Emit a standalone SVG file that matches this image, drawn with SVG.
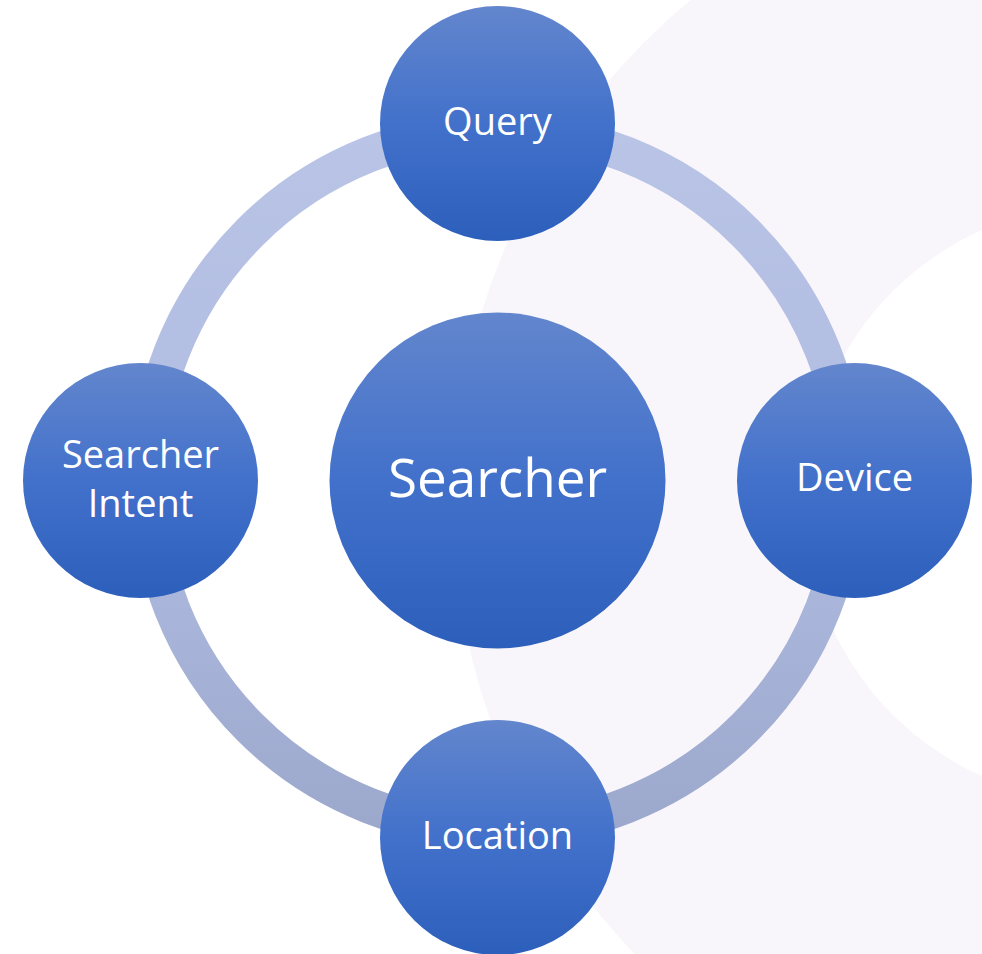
<svg xmlns="http://www.w3.org/2000/svg" width="982" height="954" viewBox="0 0 982 954">
  <defs>
    <linearGradient id="nodeFill" x1="0" y1="0" x2="0" y2="1">
      <stop offset="0" stop-color="#6386cd"/>
      <stop offset="0.5" stop-color="#4271cb"/>
      <stop offset="1" stop-color="#2c5fbb"/>
    </linearGradient>
    <linearGradient id="ringStroke" gradientUnits="userSpaceOnUse" x1="0" y1="120" x2="0" y2="840">
      <stop offset="0" stop-color="#b9c4e6"/>
      <stop offset="0.5" stop-color="#b0bce1"/>
      <stop offset="1" stop-color="#9ba8cc"/>
    </linearGradient>
    <style>
      .node { fill: url(#nodeFill); }
      .label { fill: #ffffff; font-family: "Open Sans", "Liberation Sans", sans-serif; text-anchor: middle; }
      .small { font-size: 38px; }
      .big { font-size: 53px; }
    </style>
  </defs>

  <!-- backdrop -->
  <rect x="0" y="0" width="982" height="954" fill="#ffffff"/>
  <circle cx="1104" cy="503" r="651" fill="#f8f6fb"/>
  <circle cx="1104" cy="503" r="299" fill="#ffffff"/>

  <!-- connecting ring -->
  <g id="connectors">
    <circle cx="497.5" cy="480" r="350" fill="none" stroke="url(#ringStroke)" stroke-width="36"/>
  </g>

  <g id="node-searcher">
    <circle class="node" cx="497.5" cy="480.5" r="168"/>
    <text class="label big" x="497.5" y="497">Searcher</text>
  </g>

  <g id="node-query">
    <circle class="node" cx="497.5" cy="123.5" r="117.5"/>
    <text class="label small" x="497.5" y="135">Query</text>
  </g>

  <g id="node-intent">
    <circle class="node" cx="140.5" cy="480.5" r="117.5"/>
    <text class="label small" x="140.5" y="468">Searcher</text>
    <text class="label small" x="140.5" y="516.5">Intent</text>
  </g>

  <g id="node-device">
    <circle class="node" cx="854.5" cy="480.5" r="117.5"/>
    <text class="label small" x="854.5" y="491">Device</text>
  </g>

  <g id="node-location">
    <circle class="node" cx="497.5" cy="837.5" r="117.5"/>
    <text class="label small" x="497.5" y="849">Location</text>
  </g>
</svg>
